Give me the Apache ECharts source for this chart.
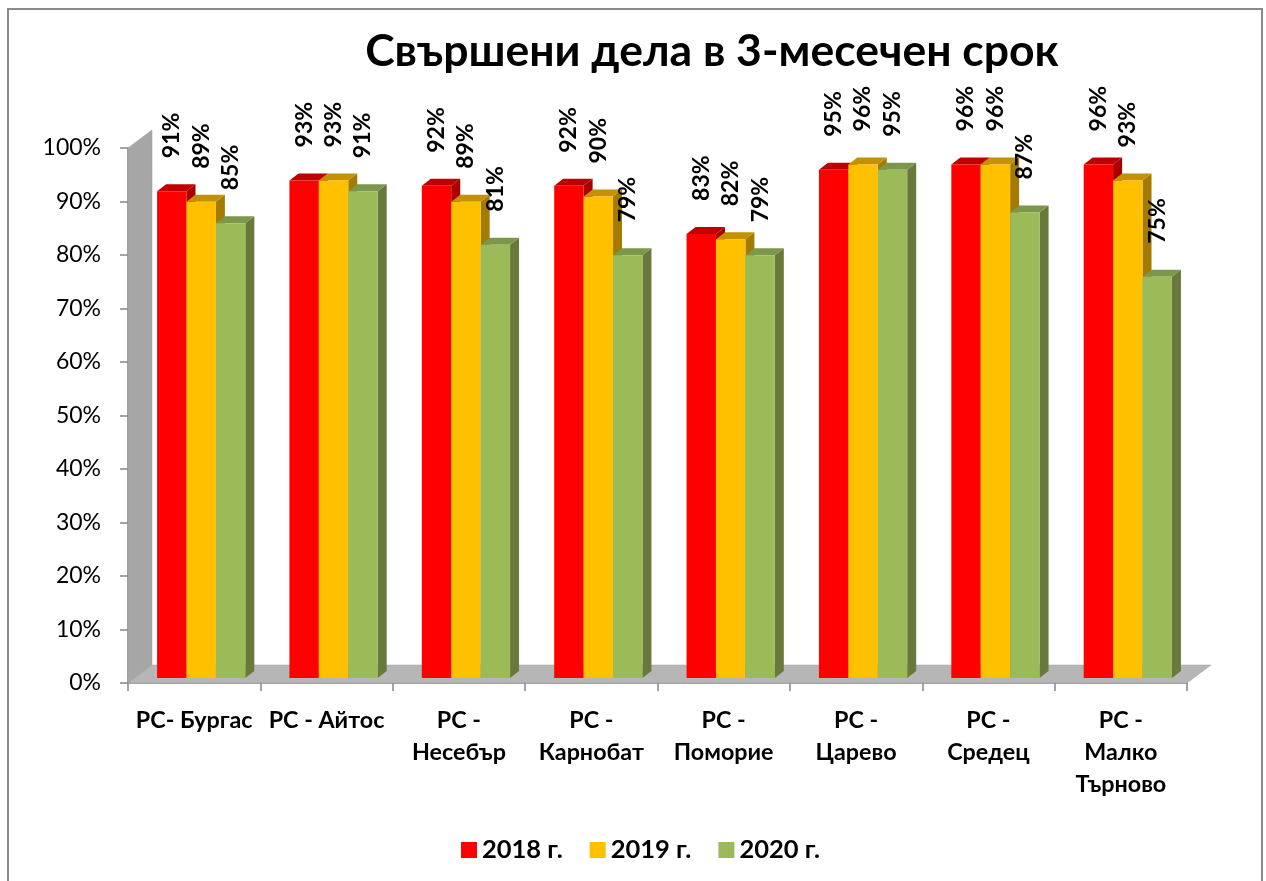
<!DOCTYPE html>
<html>
<head>
<meta charset="utf-8">
<script src="https://cdn.jsdelivr.net/npm/echarts@6/dist/echarts.min.js"></script>
<style>
  html, body { margin: 0; padding: 0; background: #fff; }
  #chart { width: 1266px; height: 881px; }
</style>
</head>
<body>
<div id="chart"></div>
<script>
// Court districts (category axis)
const categories = [
  'РС- Бургас',
  'РС - Айтос',
  'РС -\nНесебър',
  'РС -\nКарнобат',
  'РС -\nПоморие',
  'РС -\nЦарево',
  'РС -\nСредец',
  'РС -\nМалко\nТърново'
];

// Years shown in the legend
const years = ['2018 г.', '2019 г.', '2020 г.'];

// Share of cases completed within 3 months, %
const values2018 = [91, 93, 92, 92, 83, 95, 96, 96];
const values2019 = [89, 93, 89, 90, 82, 96, 96, 93];
const values2020 = [85, 91, 81, 79, 79, 95, 87, 75];

const FONT = 'Lato, "Noto Sans", sans-serif';

// face colours: front, top, side
const palettes = [
  { front: '#ff0000', top: '#c00000', side: '#a80000' },
  { front: '#ffc000', top: '#c49200', side: '#a47a00' },
  { front: '#9bbb59', top: '#7b974a', side: '#68793b' }
];

// depth of the walls / floor
const WALL_DX = 24, WALL_DY = 18;
// where the bar front faces sit inside the floor depth
const BAR_DX = 7, BAR_DY = 5;
// depth of each bar
const BAR_DEPTH_X = 9, BAR_DEPTH_Y = 7;

function wallRender(params, api) {
  const band = api.size([1, 0])[0];
  const first = api.coord([0, 0]);
  const last = api.coord([categories.length - 1, 0]);
  const top = api.coord([0, 100]);
  const L = first[0] - band / 2;
  const R = last[0] + band / 2;
  const y0 = first[1];
  const y1 = top[1];
  return {
    type: 'group',
    children: [
      {
        type: 'polygon',
        shape: { points: [[L, y0], [L, y1], [L + WALL_DX, y1 - WALL_DY], [L + WALL_DX, y0 - WALL_DY]] },
        style: { fill: '#a6a6a6', stroke: '#9a9a9a', lineWidth: 0.5 }
      },
      {
        type: 'polygon',
        shape: { points: [[L, y0], [R, y0], [R + WALL_DX, y0 - WALL_DY], [L + WALL_DX, y0 - WALL_DY]] },
        style: { fill: '#b6b6b6', stroke: '#a0a0a0', lineWidth: 0.5 }
      }
    ]
  };
}

function makeBarRender(idx) {
  const pal = palettes[idx];
  return function (params, api) {
    const cat = api.value(0);
    const val = api.value(1);
    const band = api.size([1, 0])[0];
    const base = api.coord([cat, 0]);
    const topPt = api.coord([cat, val]);
    const w = band / 4.5;
    const x0 = base[0] - 1.5 * w + idx * w + BAR_DX;
    const x1 = x0 + w;
    const yT = topPt[1] - BAR_DY;
    const yB = base[1] - BAR_DY;
    const dx = BAR_DEPTH_X, dy = BAR_DEPTH_Y;
    return {
      type: 'group',
      children: [
        {
          type: 'polygon',
          shape: { points: [[x1, yT], [x1 + dx, yT - dy], [x1 + dx, yB - dy], [x1, yB]] },
          style: { fill: pal.side }
        },
        {
          type: 'polygon',
          shape: { points: [[x0, yT], [x1, yT], [x1 + dx, yT - dy], [x0 + dx, yT - dy]] },
          style: { fill: pal.top }
        },
        {
          type: 'rect',
          shape: { x: x0, y: yT, width: w, height: yB - yT },
          style: { fill: pal.front }
        },
        {
          // value label, reading bottom to top
          type: 'text',
          x: x0 + w / 2,
          y: yT - 33,
          rotation: Math.PI / 2,
          style: {
            legacy: false,
            text: val + '%',
            fill: '#000',
            fontFamily: FONT,
            fontWeight: 'bold',
            fontSize: 23,
            align: 'left',
            verticalAlign: 'middle'
          }
        }
      ]
    };
  };
}

const seriesValues = [values2018, values2019, values2020];

const barSeries = seriesValues.map(function (vals, i) {
  return {
    name: years[i],
    type: 'custom',
    renderItem: makeBarRender(i),
    itemStyle: { color: palettes[i].front },
    data: vals.map(function (v, c) { return [c, v]; }),
    encode: { x: 0, y: 1 },
    clip: false,
    z: 3 + i
  };
});

const chart = echarts.init(document.getElementById('chart'), null, { renderer: 'canvas' });

chart.setOption({
  backgroundColor: '#ffffff',
  animation: false,
  title: {
    text: 'Свършени дела в 3-месечен срок',
    left: 712,
    top: 29,
    padding: 0,
    textAlign: 'center',
    textStyle: { fontFamily: FONT, fontWeight: 'bold', fontSize: 44.5, color: '#000' }
  },
  legend: {
    data: years,
    left: 461,
    top: 837,
    icon: 'rect',
    itemWidth: 16,
    itemHeight: 16,
    itemGap: 27,
    padding: 0,
    textStyle: { fontFamily: FONT, fontWeight: 'bold', fontSize: 25.5, color: '#000' }
  },
  graphic: [
    {
      type: 'rect',
      shape: { x: 8, y: 9, width: 1254, height: 900 },
      style: { fill: 'none', stroke: '#8a8a8a', lineWidth: 2 },
      silent: true,
      z: -10
    }
  ],
  grid: {
    left: 128,
    right: 79,
    top: 148,
    bottom: 198,
    containLabel: false
  },
  xAxis: {
    type: 'category',
    data: categories,
    boundaryGap: true,
    axisLine: { show: true, lineStyle: { color: '#868686', width: 1.5 } },
    axisTick: { show: true, length: 8, lineStyle: { color: '#868686', width: 1.5 } },
    axisLabel: {
      interval: 0,
      margin: 21,
      fontFamily: FONT,
      fontWeight: 'bold',
      fontSize: 23.3,
      lineHeight: 32,
      color: '#000'
    },
    splitLine: { show: false }
  },
  yAxis: {
    type: 'value',
    min: 0,
    max: 100,
    interval: 10,
    axisLine: { show: true, lineStyle: { color: '#868686', width: 1.5 } },
    axisTick: { show: true, length: 8, lineStyle: { color: '#868686', width: 1.5 } },
    axisLabel: {
      margin: 27,
      formatter: '{value}%',
      fontFamily: FONT,
      fontSize: 23,
      color: '#000'
    },
    splitLine: { show: false }
  },
  series: [
    {
      name: 'floor',
      type: 'custom',
      renderItem: wallRender,
      data: [[0, 0]],
      encode: { x: 0, y: 1 },
      silent: true,
      clip: false,
      z: 1
    }
  ].concat(barSeries)
});
</script>
</body>
</html>
